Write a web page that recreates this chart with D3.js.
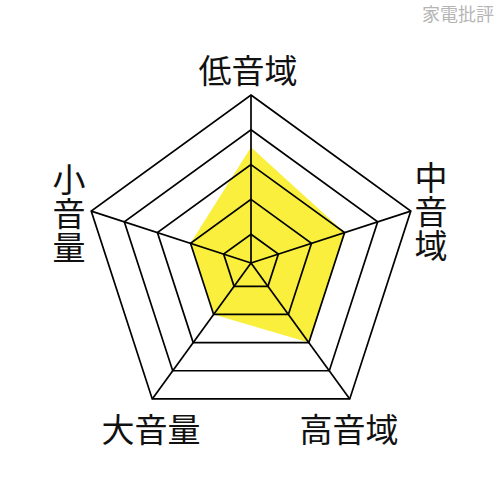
<!DOCTYPE html>
<html>
<head>
<meta charset="utf-8">
<script src="https://cdn.jsdelivr.net/npm/d3@7"></script>
<style>
  body { margin: 0; background: #fff; }
  text { font-family: "Noto Sans CJK JP", "Noto Sans CJK SC", sans-serif; }
</style>
</head>
<body>
<div id="radar_div"></div>
<script>
// axis labels, clockwise from top
axes = ['低音域', '中音域', '高音域', '大音量', '小音量'];
scores = [3.5, 3, 3, 2, 2];
levels = [1, 2, 3, 4, 5];

W = 500;
H = 500;
cx = 251;
cy = 263;
R = 168;
fill_color = '#f9ef3c';

r = d3.scaleLinear().domain([0, 5]).range([-6, R]);
ang = d3.scaleLinear().domain([0, axes.length]).range([-Math.PI / 2, 1.5 * Math.PI]);

function pt(i, v) {
  var a = ang(i);
  return [cx + r(v) * Math.cos(a), cy + r(v) * Math.sin(a)];
}

svg = d3.select('#radar_div')
  .append('svg')
  .attr('width', W)
  .attr('height', H)
  .attr('display', 'block');

line = d3.line().curve(d3.curveLinearClosed);

// score polygon
svg.append('path')
  .attr('d', line(scores.map(function (v, i) { return pt(i, v); })))
  .attr('fill', fill_color)
  .attr('stroke', 'none');

// level pentagons
svg.selectAll('.level')
  .data(levels)
  .enter()
  .append('path')
  .attr('class', 'level')
  .attr('d', function (l) { return line(axes.map(function (a, i) { return pt(i, l); })); })
  .attr('fill', 'none')
  .attr('stroke', '#000')
  .attr('stroke-width', 1.7)
  .attr('stroke-linejoin', 'miter');

// spokes
svg.selectAll('.spoke')
  .data(axes)
  .enter()
  .append('line')
  .attr('class', 'spoke')
  .attr('x1', cx)
  .attr('y1', cy)
  .attr('x2', function (a, i) { return pt(i, 5)[0]; })
  .attr('y2', function (a, i) { return pt(i, 5)[1]; })
  .attr('stroke', '#000')
  .attr('stroke-width', 1.7);

// labels: [x, y, vertical]
label_pos = [[248, 69, false], [431, 210, true], [349, 428, false], [151, 428, false], [69, 212, true]];
fs = 33;

axes.forEach(function (a, i) {
  var p = label_pos[i];
  var t = svg.append('text')
    .attr('font-size', fs)
    .attr('fill', '#111')
    .attr('text-anchor', 'middle');
  if (p[2]) {
    a.split('').forEach(function (ch, k) {
      t.append('tspan')
        .attr('x', p[0])
        .attr('y', p[1] + (k - 1) * 34)
        .attr('dominant-baseline', 'central')
        .text(ch);
    });
  } else {
    t.attr('x', p[0])
      .attr('y', p[1])
      .attr('dominant-baseline', 'central')
      .text(a);
  }
});

// watermark
svg.append('text')
  .attr('x', 458)
  .attr('y', 13)
  .attr('text-anchor', 'middle')
  .attr('dominant-baseline', 'central')
  .attr('font-size', 18)
  .attr('fill', '#b5b5b5')
  .text('家電批評');
</script>
</body>
</html>
